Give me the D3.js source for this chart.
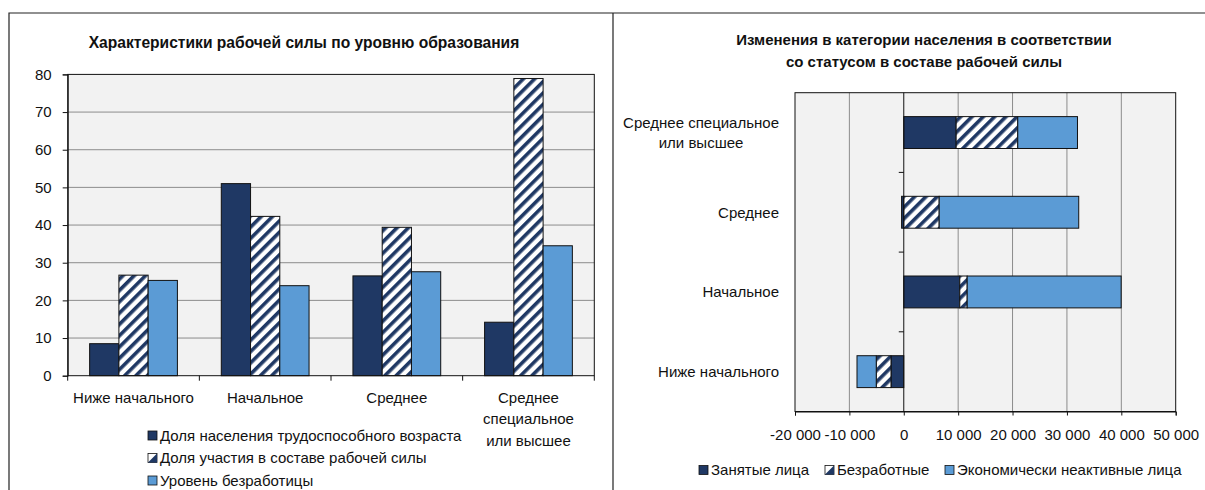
<!DOCTYPE html>
<html><head><meta charset="utf-8">
<script src="https://cdn.jsdelivr.net/npm/d3@7"></script>
<style>
body{margin:0;background:#fff;}
svg{display:block;font-family:"Liberation Sans",Arial,sans-serif;}
</style></head>
<body>
<svg id="c" width="1205" height="490"></svg>
<script>
// ---------- DATA ----------
const leftCategories = [["Ниже начального"],["Начальное"],["Среднее"],["Среднее","специальное","или высшее"]];
const leftSeriesNames = ["Доля населения трудоспособного возраста","Доля участия в составе рабочей силы","Уровень безработицы"];
const shareWorkingAge = [8.5, 51.0, 26.5, 14.2];
const participationRate = [26.7, 42.3, 39.4, 78.9];
const unemploymentRate = [25.3, 23.9, 27.6, 34.5];
const leftTicks = [0,10,20,30,40,50,60,70,80];
const leftTitle = "Характеристики рабочей силы по уровню образования";

const rightCategories = ["Ниже начального","Начальное","Среднее","Среднее специальное|или высшее"];
const rightSeriesNames = ["Занятые лица","Безработные","Экономически неактивные лица"];
const employed   = [-2350, 10300, -400, 9630];
const unemployed = [-2710, 1360, 6510, 11330];
const inactive   = [-3540, 28310, 25660, 10980];
const rightTicks = [-20000,-10000,0,10000,20000,30000,40000,50000];
const rightTitle = ["Изменения в категории населения в соответствии","со статусом в составе рабочей силы"];

// ---------- STYLE ----------
const NAVY="#1f3864", LIGHT="#5b9bd5", BG="#f2f2f2", GRID="#8c8c8c", FS=15;
const svg = d3.select("#c");
const defs = svg.append("defs");
const pat = defs.append("pattern").attr("id","stripe").attr("patternUnits","userSpaceOnUse")
  .attr("width",8).attr("height",8).attr("patternTransform","rotate(45)");
pat.append("rect").attr("width",8).attr("height",8).attr("fill","#fff");
pat.append("rect").attr("width",3.6).attr("height",8).attr("fill",NAVY);
const fills = [NAVY,"url(#stripe)",LIGHT];

// panel borders
svg.append("path").attr("d","M9,490V13H1205M613,13V490").attr("fill","none").attr("stroke","#222").attr("stroke-width",1.2);

function drawSwatch(g,x,y,i){
  if(i===1){
    g.append("rect").attr("x",x).attr("y",y).attr("width",9).attr("height",9).attr("fill","#fff").attr("stroke","#111").attr("stroke-width",0.8);
    g.append("path").attr("d",`M${x+9},${y}L${x+9},${y+9}L${x},${y+9}Z`).attr("fill",NAVY);
  } else {
    g.append("rect").attr("x",x).attr("y",y).attr("width",9).attr("height",9).attr("fill",fills[i]).attr("stroke","#111").attr("stroke-width",0.8);
  }
}

// ---------- LEFT CHART ----------
(function(){
  const L=67.7,R=594.3,T=74.4,B=375.7;
  const g=svg.append("g");
  g.append("text").attr("x",304).attr("y",43).attr("dy","0.35em").attr("text-anchor","middle")
    .attr("font-weight","bold").attr("font-size",15.6).attr("fill","#111").text(leftTitle);
  const y=d3.scaleLinear().domain([0,80]).range([B,T]);
  const x0=d3.scaleBand().domain(d3.range(leftCategories.length)).range([L,R]).paddingInner(0).paddingOuter(0);
  const bw=x0.bandwidth()/4.5;
  g.append("rect").attr("x",L).attr("y",T).attr("width",R-L).attr("height",B-T).attr("fill",BG);
  g.selectAll(".gl").data(leftTicks.filter(d=>d>0&&d<80)).join("line")
    .attr("x1",L).attr("x2",R).attr("y1",d=>y(d)).attr("y2",d=>y(d)).attr("stroke",GRID).attr("stroke-width",1);
  const series=[shareWorkingAge,participationRate,unemploymentRate];
  series.forEach((s,si)=>{
    g.selectAll(".b"+si).data(s).join("rect")
      .attr("x",(d,i)=>x0(i)+0.75*bw+si*bw).attr("y",d=>y(d))
      .attr("width",bw).attr("height",d=>B-y(d))
      .attr("fill",fills[si]).attr("stroke","#111").attr("stroke-width",1);
  });
  g.append("rect").attr("x",L).attr("y",T).attr("width",R-L).attr("height",B-T).attr("fill","none").attr("stroke","#111").attr("stroke-width",1);
  // y axis
  const ya=g.append("g").attr("transform",`translate(${L},0)`)
    .call(d3.axisLeft(y).tickValues(leftTicks).tickSize(5).tickPadding(11).tickFormat(d3.format("d")));
  ya.select(".domain").attr("stroke","#111");
  ya.selectAll("line").attr("stroke","#111");
  ya.selectAll("text").attr("font-size",FS).attr("fill","#111").attr("font-family","Liberation Sans, Arial, sans-serif");
  // x axis ticks at band boundaries
  const bounds=d3.range(leftCategories.length+1).map(i=>L+i*x0.bandwidth());
  g.selectAll(".xt").data(bounds).join("line").attr("x1",d=>d).attr("x2",d=>d).attr("y1",B).attr("y2",B+5).attr("stroke","#111");
  leftCategories.forEach((lines,i)=>{
    const t=g.append("text").attr("text-anchor","middle").attr("font-size",FS).attr("fill","#111");
    lines.forEach((ln,j)=>t.append("tspan").attr("x",x0(i)+x0.bandwidth()/2).attr("y",397.5+j*21.5).attr("dy","0.35em").text(ln));
  });
  // legend
  const lg=g.append("g");
  leftSeriesNames.forEach((n,i)=>{
    const yy=435.5+i*22.5;
    drawSwatch(lg,148,yy-4.5,i);
    lg.append("text").attr("x",160).attr("y",yy).attr("dy","0.35em").attr("font-size",FS).attr("fill","#111").text(n);
  });
})();

// ---------- RIGHT CHART ----------
(function(){
  const L=795,R=1175.7,T=92.7,B=411.5;
  const g=svg.append("g");
  rightTitle.forEach((t,i)=>g.append("text").attr("x",924).attr("y",39.5+i*22).attr("dy","0.35em")
    .attr("text-anchor","middle").attr("font-weight","bold").attr("font-size",15).attr("fill","#111").text(t));
  const x=d3.scaleLinear().domain([-20000,50000]).range([L,R]);
  const y=d3.scaleBand().domain(d3.range(rightCategories.length)).range([B,T]).paddingInner(0.6).paddingOuter(0.3);
  g.append("rect").attr("x",L).attr("y",T).attr("width",R-L).attr("height",B-T).attr("fill",BG);
  g.selectAll(".gl").data(rightTicks.filter(d=>d!==0&&d!==-20000&&d!==50000)).join("line")
    .attr("x1",d=>x(d)).attr("x2",d=>x(d)).attr("y1",T).attr("y2",B).attr("stroke",GRID);
  const rows=rightCategories.map((c,i)=>({i,a:employed[i],b:unemployed[i],c:inactive[i]}));
  const stack=d3.stack().keys(["a","b","c"]).offset(d3.stackOffsetDiverging)(rows);
  stack.forEach((s,si)=>{
    g.selectAll(".s"+si).data(s).join("rect")
      .attr("x",d=>x(Math.min(d[0],d[1]))).attr("width",d=>Math.abs(x(d[1])-x(d[0])))
      .attr("y",d=>y(d.data.i)).attr("height",y.bandwidth())
      .attr("fill",fills[si]).attr("stroke","#111").attr("stroke-width",1);
  });
  g.append("rect").attr("x",L).attr("y",T).attr("width",R-L).attr("height",B-T).attr("fill","none").attr("stroke","#111");
  // zero axis
  g.append("line").attr("x1",x(0)).attr("x2",x(0)).attr("y1",T).attr("y2",B).attr("stroke","#111");
  const step=(B-T)/rightCategories.length;
  g.selectAll(".ct").data(d3.range(1,rightCategories.length)).join("line")
    .attr("x1",x(0)-5).attr("x2",x(0)).attr("y1",d=>B-d*step).attr("y2",d=>B-d*step).attr("stroke","#111");
  // x axis
  const fmt=d=>d3.format(",")(d).replace(/,/g," ").replace("−","-");
  const xa=g.append("g").attr("transform",`translate(0,${B})`).call(d3.axisBottom(x).tickValues(rightTicks).tickSize(4).tickPadding(14).tickFormat(fmt));
  xa.select(".domain").attr("stroke","#111");
  xa.selectAll("line").attr("stroke","#111");
  xa.selectAll("text").attr("font-size",FS).attr("fill","#111").attr("font-family","Liberation Sans, Arial, sans-serif");
  // category labels
  rightCategories.forEach((c,i)=>{
    const lines=c.split("|");
    const cy=y(i)+y.bandwidth()/2;
    const t=g.append("text").attr("text-anchor","middle").attr("font-size",FS).attr("fill","#111");
    lines.forEach((ln,j)=>t.append("tspan").attr("x",0).attr("y",cy+(j-(lines.length-1)/2)*20.5).attr("dy","0.35em").text(ln));
    const w=t.node().getBBox().width;
    t.selectAll("tspan").attr("x",779-w/2);
  });
  // legend
  const lg=g.append("g");
  const lx=[699,825,945];
  rightSeriesNames.forEach((n,i)=>{
    drawSwatch(lg,lx[i],470-4.5,i);
    lg.append("text").attr("x",lx[i]+12).attr("y",470).attr("dy","0.35em").attr("font-size",FS).attr("fill","#111").text(n);
  });
})();
</script>
</body></html>
